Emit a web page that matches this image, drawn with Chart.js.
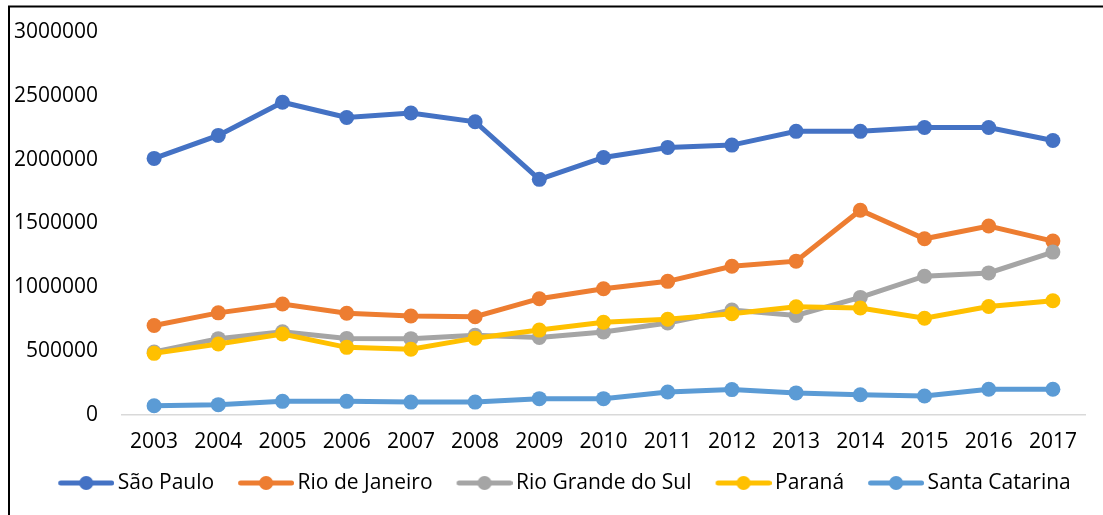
<!DOCTYPE html>
<html>
<head>
<meta charset="utf-8">
<script src="https://cdn.jsdelivr.net/npm/chart.js@4.4.1/dist/chart.umd.min.js"></script>
<style>
  html, body { margin: 0; padding: 0; background: #fff; }
  #wrap { position: relative; width: 1103px; height: 515px; }
</style>
</head>
<body>
<div id="wrap"><canvas id="c" width="1103" height="515"></canvas></div>
<script>
const years = ['2003','2004','2005','2006','2007','2008','2009','2010','2011','2012','2013','2014','2015','2016','2017'];
const seriesNames = ['São Paulo', 'Rio de Janeiro', 'Rio Grande do Sul', 'Paraná', 'Santa Catarina'];
const saoPaulo       = [2010000, 2190000, 2450000, 2330000, 2365000, 2297000, 1846000, 2017000, 2096000, 2114000, 2222000, 2222000, 2252000, 2252000, 2150000];
const rioDeJaneiro   = [701000, 800000, 870000, 797000, 775000, 770000, 911000, 989000, 1047000, 1165000, 1205000, 1604000, 1380000, 1480000, 1362000];
const rioGrandeDoSul = [493000, 598000, 652000, 600000, 598000, 625000, 608000, 650000, 721000, 822000, 780000, 921000, 1087000, 1113000, 1276000];
const parana         = [483000, 556000, 635000, 530000, 515000, 602000, 665000, 727000, 750000, 793000, 848000, 838000, 758000, 850000, 895000];
const santaCatarina  = [72000, 81000, 107000, 107000, 101000, 101000, 128000, 128000, 180000, 199000, 173000, 159000, 149000, 202000, 202000];
const yTicks = [0, 500000, 1000000, 1500000, 2000000, 2500000, 3000000];

const colors = ['#4472C4', '#ED7D31', '#A5A5A5', '#FFC000', '#5B9BD5'];
const values = [saoPaulo, rioDeJaneiro, rioGrandeDoSul, parana, santaCatarina];

function makeMarker(color) {
  const c = document.createElement('canvas');
  c.width = 77; c.height = 18;
  const g = c.getContext('2d');
  g.strokeStyle = color; g.lineWidth = 5; g.lineCap = 'round';
  g.beginPath(); g.moveTo(23.5, 9); g.lineTo(74.5, 9); g.stroke();
  g.fillStyle = color;
  g.beginPath(); g.arc(49, 9, 7, 0, Math.PI * 2); g.fill();
  return c;
}
const markers = colors.map(makeMarker);

const datasets = seriesNames.map((name, i) => ({
  label: name,
  data: values[i],
  borderColor: colors[i],
  backgroundColor: colors[i],
  borderWidth: 5,
  pointRadius: 7.5,
  pointHoverRadius: 7.5,
  pointBorderWidth: 0,
  pointBackgroundColor: colors[i],
  tension: 0,
  order: seriesNames.length - i
}));

const framePlugin = {
  id: 'frame',
  afterLayout(chart) {
    // let the y tick labels extend into the left padding without being clipped
    chart.scales.y.left = 0;
  },
  afterDraw(chart) {
    const ctx = chart.ctx;
    ctx.save();
    ctx.strokeStyle = '#000';
    ctx.lineWidth = 2;
    ctx.beginPath();
    ctx.moveTo(9, 515); ctx.lineTo(9, 6.5); ctx.lineTo(1103, 6.5);
    ctx.stroke();
    ctx.restore();
  }
};

Chart.defaults.font.family = '"Open Sans", sans-serif';
Chart.defaults.color = '#000';

new Chart(document.getElementById('c'), {
  type: 'line',
  data: { labels: years, datasets },
  options: {
    responsive: false,
    animation: false,
    layout: { padding: { top: 32, left: 30, right: 18, bottom: 11.5 } },
    plugins: {
      tooltip: { enabled: false },
      legend: {
        position: 'bottom',
        align: 'center',
        labels: {
          usePointStyle: true,
          pointStyleWidth: 63,
          padding: 10,
          color: '#000',
          font: { size: 21 },
          generateLabels(chart) {
            const items = Chart.defaults.plugins.legend.labels.generateLabels(chart);
            items.sort((a, b) => a.datasetIndex - b.datasetIndex);
            items.forEach(it => { it.pointStyle = markers[it.datasetIndex]; it.lineWidth = 0; });
            return items;
          }
        }
      }
    },
    scales: {
      x: {
        type: 'category',
        offset: true,
        grid: { display: false, drawTicks: false },
        border: { display: true, color: '#D9D9D9', width: 1.5 },
        ticks: { padding: 14, font: { size: 21 }, color: '#000', maxRotation: 0, autoSkip: false },
        afterFit(scale) { scale.height = 47.5; }
      },
      y: {
        min: 0,
        max: 3000000,
        grid: { display: false, drawTicks: false },
        border: { display: false },
        afterBuildTicks(scale) { scale.ticks = yTicks.map(v => ({ value: v })); },
        ticks: { padding: 24, font: { size: 21 }, color: '#000', callback: v => String(v) },
        afterFit(scale) { scale.width = 92; scale.paddingTop = 0; scale.paddingBottom = 0; }
      }
    }
  },
  plugins: [framePlugin]
});
</script>
</body>
</html>
